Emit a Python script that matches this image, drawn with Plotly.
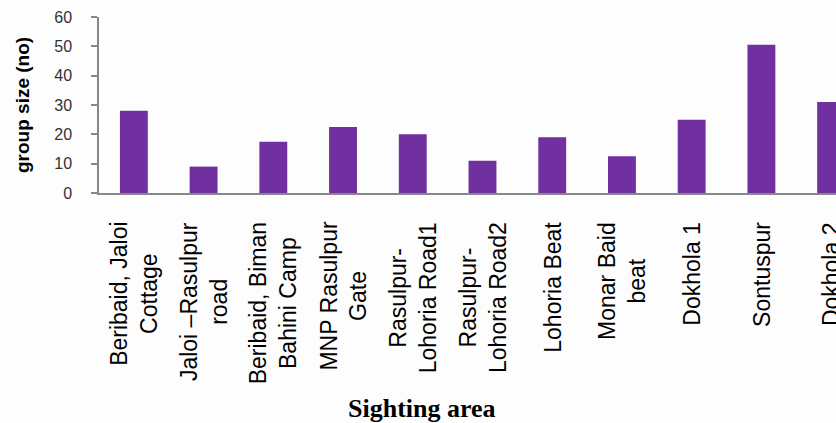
import plotly.graph_objects as go

categories = [
    "Beribaid, Jaloi<br>Cottage",
    "Jaloi –Rasulpur<br>road",
    "Beribaid, Biman<br>Bahini Camp",
    "MNP Rasulpur<br>Gate",
    "Rasulpur-<br>Lohoria Road1",
    "Rasulpur-<br>Lohoria Road2",
    "Lohoria Beat",
    "Monar Baid<br>beat",
    "Dokhola 1",
    "Sontuspur",
    "Dokhola 2",
]
group_size = [28, 9, 17.5, 22.5, 20, 11, 19, 12.5, 25, 50.5, 31]
y_ticks = [0, 10, 20, 30, 40, 50, 60]
y_title = "group size (no)"
x_title = "Sighting area"

xs = list(range(len(categories)))

fig = go.Figure()
fig.add_trace(go.Bar(
    x=xs, y=group_size, width=0.4,
    marker=dict(color="#7030A0", line=dict(width=0)),
))

annotations = []
for i, lab in enumerate(categories):
    annotations.append(dict(
        x=i, xref="x", y=0, yref="paper", yshift=-27,
        text=lab, textangle=-90, showarrow=False,
        xanchor="center", yanchor="top", align="center",
        font=dict(family="Liberation Sans", size=23, color="#000000"),
    ))
annotations.append(dict(
    x=0, xref="paper", xshift=-77, y=0.5, yref="paper",
    text="<b>" + y_title + "</b>", textangle=-90, showarrow=False,
    xanchor="center", yanchor="middle",
    font=dict(family="Liberation Sans", size=19, color="#000000"),
))
annotations.append(dict(
    x=0.438, xref="paper", y=0, yref="paper", yshift=-215,
    text="<b>" + x_title + "</b>", showarrow=False,
    xanchor="center", yanchor="middle",
    font=dict(family="Liberation Serif", size=26, color="#000000"),
))

fig.update_layout(
    width=836, height=423,
    margin=dict(l=99, r=0, t=17, b=230, pad=0),
    paper_bgcolor="#fdfdfd", plot_bgcolor="#fdfdfd",
    showlegend=False,
    annotations=annotations,
    xaxis=dict(
        range=[-0.5, 10.07], showticklabels=False, showgrid=False,
        zeroline=False, showline=True, linecolor="#888888", linewidth=2,
        ticks="",
    ),
    yaxis=dict(
        range=[0, 60], tickvals=y_ticks, showgrid=False, zeroline=False,
        showline=True, linecolor="#888888", linewidth=1.5,
        ticks="outside", ticklen=6, tickcolor="#888888", tickwidth=1.5,
        ticklabelstandoff=16,
        tickfont=dict(family="Liberation Sans", size=16, color="#333333"),
    ),
)

fig.write_html(
    "out.html",
    config={"displayModeBar": False},
    post_script="document.body.style.margin='0';document.body.style.overflow='hidden';",
)
